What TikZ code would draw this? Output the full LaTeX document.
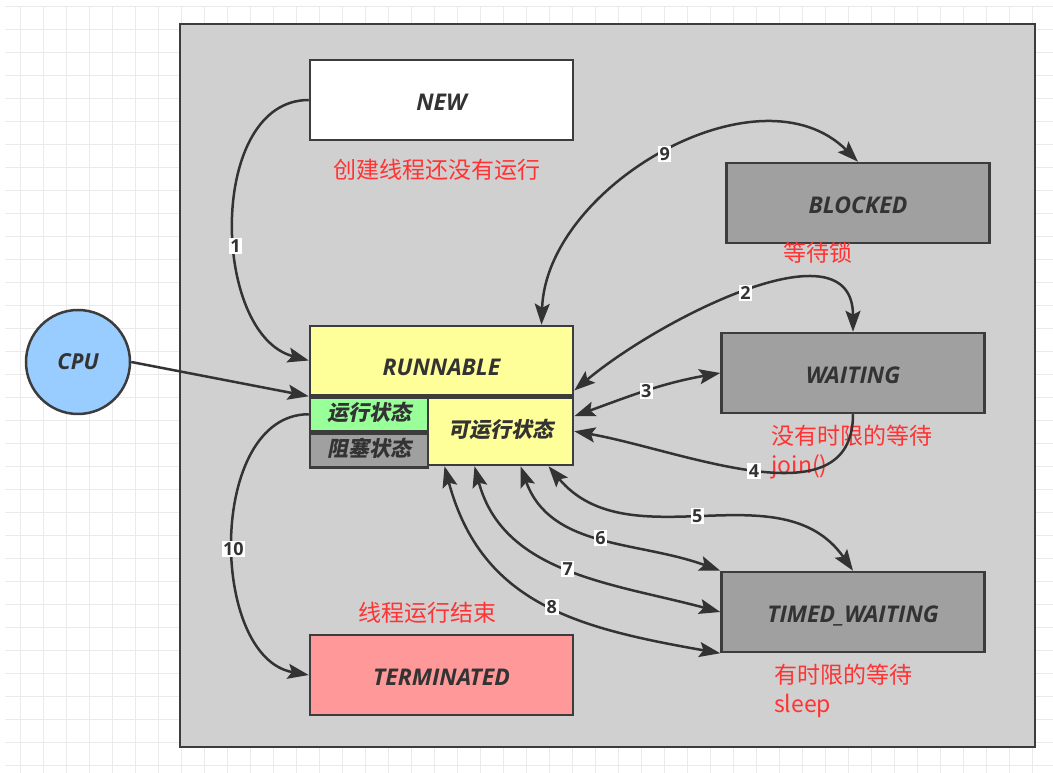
\documentclass[tikz,border=0pt]{standalone}
\usepackage{fontspec}
\setmainfont{Open Sans}
\newfontfamily\cjk{Noto Sans CJK SC}
\newfontfamily\cjkinclinada{Noto Sans CJK SC}[FakeSlant=0.2]
\usetikzlibrary{arrows.meta, positioning}
\definecolor{cfondo}{HTML}{D0D0D0}
\definecolor{cborde}{HTML}{3C3C3C}
\definecolor{cgris}{HTML}{A0A0A0}
\definecolor{camarillo}{HTML}{FFFF99}
\definecolor{cverde}{HTML}{99FF99}
\definecolor{crosa}{HTML}{FF9999}
\definecolor{cazul}{HTML}{99CCFF}
\definecolor{crojo}{HTML}{FF3333}
\definecolor{ctexto}{HTML}{333333}
\definecolor{crejilla}{HTML}{EAEAEA}
\tikzstyle{rejilla} = [draw=crejilla, line width=1pt]
\tikzstyle{marco} = [draw=cborde, line width=2.5pt, fill=cfondo]
\tikzstyle{estado} = [draw=cborde, line width=2.5pt, rectangle, minimum width=263pt, minimum height=80pt, inner sep=0pt, text height=22pt, text depth=0pt, text=ctexto, font=\bfseries\itshape\fontsize{23}{23}\selectfont]
\tikzstyle{subestado} = [estado, minimum width=118pt, minimum height=33.5pt, text height=17pt, text depth=4pt, font=\cjkinclinada\bfseries\fontsize{21}{21}\selectfont]
\tikzstyle{nota} = [text=crojo, inner sep=0pt, align=left, font=\cjk\fontsize{23}{29}\selectfont]
\tikzstyle{numero} = [fill=white, inner sep=1.5pt, text=ctexto, font=\bfseries\fontsize{18}{18}\selectfont]
\tikzstyle{flecha} = [draw=ctexto, line width=2.5pt, -{Stealth[length=21pt,width=15pt,inset=4pt]}]
\tikzstyle{doble} = [flecha, {Stealth[length=21pt,width=15pt,inset=4pt]}-{Stealth[length=21pt,width=15pt,inset=4pt]}]

\begin{document}
\begin{tikzpicture}[x=1pt, y=1pt]
	\useasboundingbox (0,0) rectangle (1053,773);
	% rejilla del fondo
	\foreach \x in {20,43,...,1053} \draw[rejilla] (\x,0) -- (\x,766);
	\foreach \y in {766,743,...,0} \draw[rejilla] (5,\y) -- (1053,\y);
	\draw[marco] (180,26) rectangle (1035,749);
	% estados
	\node[estado, fill=white] (new) at (441.5,673) {NEW};
	\node[estado, fill=cgris] (blocked) at (858,570) {BLOCKED};
	\node[estado, fill=cgris] (waiting) at (853,400) {WAITING};
	\node[estado, fill=cgris] (timed) at (853,161) {TIMED\_WAITING};
	\node[estado, fill=crosa] (terminated) at (441.5,98) {TERMINATED};
	\node[estado, fill=camarillo, minimum height=69pt, text height=30pt] (runnable) at (441.5,412.5) {RUNNABLE};
	\node[subestado, fill=cverde, anchor=north west] (corriendo) at (runnable.south west) {运行状态};
	\node[subestado, fill=cgris, anchor=north west, minimum height=34pt] (bloqueado) at (corriendo.south west) {阻塞状态};
	\node[subestado, fill=camarillo, anchor=north east, minimum width=145pt, minimum height=67.5pt] (listo) at (runnable.south east) {可运行状态};
	\node[circle, draw=cborde, line width=2.5pt, fill=cazul, minimum size=104pt, text=ctexto, font=\bfseries\itshape\fontsize{22}{22}\selectfont] (cpu) at (78,411) {CPU};
	% notas
	\node[nota] (nnew) at (437,603) {创建线程还没有运行};
	\node[nota] (nblocked) at (818,520) {等待锁};
	\node[nota] (nwaiting) at (852,321) {没有时限的等待\\join()};
	\node[nota] (nterminated) at (427,160) {线程运行结束};
	\node[nota] (ntimed) at (843,82) {有时限的等待\\sleep};
	% transiciones
	\draw[flecha] (new.west) to[out=180, in=165] node[numero, pos=0.57] (t1) {1} (runnable.west);
	\draw[flecha] (cpu.east) -- (runnable.south west);
	\draw[flecha] (corriendo.west) to[out=180, in=170] node[numero, pos=0.53] (t10) {10} (terminated.west);
	\draw[doble] ([xshift=100pt]runnable.north) to[out=88, in=135] node[numero] (t9) {9} (blocked.north);
	\draw[doble] ([yshift=-30pt]runnable.east) to[out=40, in=90] node[numero] (t2) {2} (waiting.north);
	\draw[doble] ([yshift=15pt]listo.east) to[out=20, in=190] node[numero] (t3) {3} (waiting.west);
	\draw[flecha] (waiting.south) to[out=-90, in=-10] node[numero] (t4) {4} (listo.east);
	\draw[doble] ([xshift=48pt]listo.south) to[out=-50, in=125] node[numero, pos=0.48] (t5) {5} (timed.north);
	\draw[doble] ([xshift=20pt]listo.south) to[out=-70, in=160] node[numero] (t6) {6} (timed.north west);
	\draw[doble] ([xshift=-26pt]listo.south) to[out=-75, in=165] node[numero] (t7) {7} (timed.west);
	\draw[doble] ([xshift=-56pt]listo.south) to[out=-75, in=170, looseness=1.1] node[numero, pos=0.53] (t8) {8} (timed.south west);
\end{tikzpicture}
\end{document}
